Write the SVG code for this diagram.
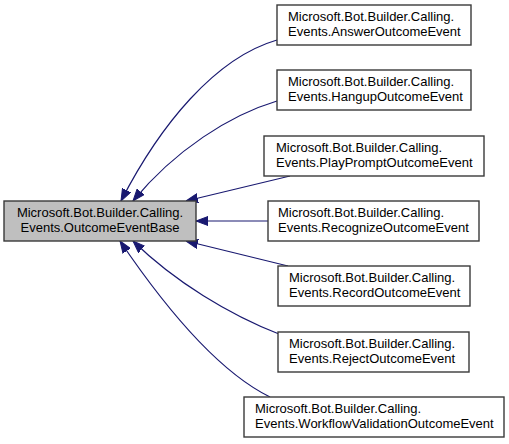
<svg xmlns="http://www.w3.org/2000/svg" width="509" height="444" viewBox="0 0 509 444">
<defs>
<style>
.node rect{fill:#ffffff;stroke:#3a3a3a;stroke-width:1.4}
#base rect{fill:#bfbfbf}
text{font-family:"Liberation Sans",Arial,sans-serif;font-size:13px;fill:#000}
.edge{fill:none;stroke:#191970;stroke-width:1.2;marker-end:url(#arr)}
</style>
<marker id="arr" markerUnits="userSpaceOnUse" viewBox="0 0 12 10" refX="12" refY="5" markerWidth="12" markerHeight="10" orient="auto">
<path d="M0,0.5 L12,5 L0,9.5 z" fill="#191970" stroke="#191970" stroke-width="1"/>
</marker>
</defs>
<rect width="509" height="444" fill="#ffffff"/>
<g id="connectors">
<path class="edge" d="M277,40 C215,58 160,125 121,201"/>
<path class="edge" d="M277,101 C230,115 175,150 133,201"/>
<path class="edge" d="M290,176 L186,201"/>
<path class="edge" d="M268,221 L196,221"/>
<path class="edge" d="M288,266 L186,241"/>
<path class="edge" d="M279,334 C230,315 175,282 133,241"/>
<path class="edge" d="M270,397 C215,370 160,300 120,241"/>
</g>
<g id="base" class="node">
<rect x="4" y="201" width="192" height="40"/>
<text x="100" y="217" text-anchor="middle">Microsoft.Bot.Builder.Calling.</text>
<text x="100" y="232" text-anchor="middle">Events.OutcomeEventBase</text>
</g>
<g id="answer" class="node">
<rect x="277" y="5" width="194" height="40"/>
<text x="288" y="21">Microsoft.Bot.Builder.Calling.</text>
<text x="288" y="36">Events.AnswerOutcomeEvent</text>
</g>
<g id="hangup" class="node">
<rect x="277" y="70" width="194" height="40"/>
<text x="288" y="86">Microsoft.Bot.Builder.Calling.</text>
<text x="288" y="101">Events.HangupOutcomeEvent</text>
</g>
<g id="playprompt" class="node">
<rect x="264" y="136" width="220" height="40"/>
<text x="276" y="152">Microsoft.Bot.Builder.Calling.</text>
<text x="276" y="167">Events.PlayPromptOutcomeEvent</text>
</g>
<g id="recognize" class="node">
<rect x="268" y="201" width="211" height="40"/>
<text x="278" y="217">Microsoft.Bot.Builder.Calling.</text>
<text x="278" y="232">Events.RecognizeOutcomeEvent</text>
</g>
<g id="record" class="node">
<rect x="278" y="266" width="192" height="40"/>
<text x="289" y="282">Microsoft.Bot.Builder.Calling.</text>
<text x="289" y="297">Events.RecordOutcomeEvent</text>
</g>
<g id="reject" class="node">
<rect x="278" y="332" width="191" height="40"/>
<text x="289" y="348">Microsoft.Bot.Builder.Calling.</text>
<text x="289" y="363">Events.RejectOutcomeEvent</text>
</g>
<g id="workflow" class="node">
<rect x="244" y="397" width="260" height="40"/>
<text x="255" y="413">Microsoft.Bot.Builder.Calling.</text>
<text x="255" y="428">Events.WorkflowValidationOutcomeEvent</text>
</g>
</svg>
